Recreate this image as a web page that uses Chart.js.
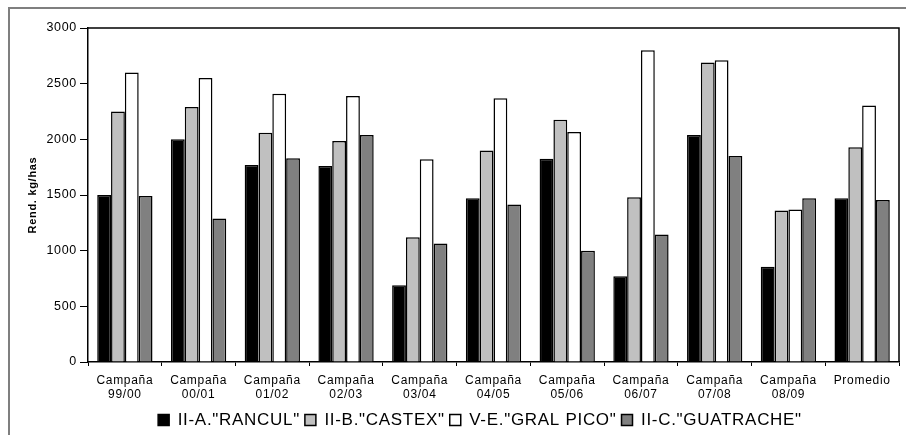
<!DOCTYPE html>
<html>
<head>
<meta charset="utf-8">
<script src="https://cdn.jsdelivr.net/npm/chart.js@4/dist/chart.umd.min.js"></script>
<style>
  html, body { margin: 0; padding: 0; background: #fff; }
  #wrap { width: 906px; height: 435px; position: relative; }
</style>
</head>
<body>
<div id="wrap"><canvas id="rendChart"></canvas></div>
<script>
// Rendimiento (kg/ha) por campaña y por zona
const campanias = [
    ['Campaña', '99/00'], ['Campaña', '00/01'], ['Campaña', '01/02'], ['Campaña', '02/03'],
    ['Campaña', '03/04'], ['Campaña', '04/05'], ['Campaña', '05/06'], ['Campaña', '06/07'],
    ['Campaña', '07/08'], ['Campaña', '08/09'], 'Promedio'
];
const rancul    = [1500, 2000, 1770, 1760, 690, 1470, 1825, 770, 2040, 855, 1470];
const castex    = [2250, 2290, 2060, 1985, 1120, 1900, 2175, 1480, 2690, 1360, 1930];
const gralPico  = [2600, 2550, 2410, 2390, 1820, 2370, 2065, 2800, 2710, 1370, 2305];
const guatrache = [1490, 1290, 1830, 2040, 1065, 1415, 1000, 1145, 1850, 1470, 1455];
const yTicks = [0, 500, 1000, 1500, 2000, 2500, 3000];

const FONT = "'Liberation Sans', Arial, sans-serif";
const LEGEND_FONT = 17;
const LEGEND_PAD = 5;

// el texto del gráfico original va algo espaciado
const spacingPlugin = {
    id: 'spacing',
    beforeUpdate(chart) { chart.ctx.letterSpacing = '0.7px'; },
    beforeDraw(chart) { chart.ctx.letterSpacing = '0.7px'; }
};

// la leyenda queda algo corrida a la derecha y pegada al borde inferior
const legendShift = {
    id: 'legendShift',
    afterLayout(chart) {
        const lg = chart.legend;
        if (!lg) return;
        const dx = 480 - (lg.left + lg.right) / 2;
        const dy = 420 - (lg.top + LEGEND_PAD + LEGEND_FONT / 2);
        lg.left += dx; lg.right += dx;
        lg.top += dy; lg.bottom += dy;
    }
};

// marco exterior gris y borde del área de trazado
const framePlugin = {
    id: 'frame',
    beforeDraw(chart) {
        const ctx = chart.ctx;
        ctx.save();
        ctx.strokeStyle = '#7f7f7f';
        ctx.lineWidth = 2;
        ctx.beginPath();
        ctx.moveTo(9, 435);
        ctx.lineTo(9, 8);
        ctx.lineTo(906, 8);
        ctx.stroke();
        ctx.restore();
    },
    afterDatasetsDraw(chart) {
        const a = chart.chartArea;
        const ctx = chart.ctx;
        ctx.save();
        ctx.strokeStyle = '#000';
        ctx.lineWidth = 1.5;
        ctx.beginPath();
        ctx.moveTo(a.left, a.top);
        ctx.lineTo(a.right, a.top);
        ctx.lineTo(a.right, a.bottom);
        ctx.stroke();
        ctx.restore();
    }
};

function serie(label, data, color) {
    return {
        label: label,
        data: data,
        backgroundColor: color,
        borderColor: '#000',
        borderWidth: 1.5,
        borderSkipped: 'bottom',
        categoryPercentage: 0.75,
        barPercentage: 1.0
    };
}

new Chart(document.getElementById('rendChart'), {
    type: 'bar',
    data: {
        labels: campanias,
        datasets: [
            serie('II-A."RANCUL"', rancul, '#000000'),
            serie('II-B."CASTEX"', castex, '#c0c0c0'),
            serie('V-E."GRAL PICO"', gralPico, '#ffffff'),
            serie('II-C."GUATRACHE"', guatrache, '#808080')
        ]
    },
    options: {
        responsive: true,
        maintainAspectRatio: false,
        animation: false,
        layout: { padding: { left: 26, top: 28, right: 7, bottom: 0 } },
        plugins: {
            legend: {
                position: 'bottom',
                labels: {
                    color: '#000',
                    font: { family: FONT, size: LEGEND_FONT },
                    boxWidth: 11,
                    boxHeight: 11,
                    padding: LEGEND_PAD
                }
            },
            tooltip: { enabled: false }
        },
        scales: {
            x: {
                afterFit(scale) { scale.height = 41; },
                grid: {
                    display: true,
                    drawOnChartArea: false,
                    drawTicks: true,
                    tickLength: 4,
                    color: '#000',
                    lineWidth: 1
                },
                border: { display: true, color: '#000', width: 1.5 },
                ticks: {
                    color: '#000',
                    font: { family: FONT, size: 12 },
                    padding: 7,
                    maxRotation: 0,
                    autoSkip: false
                }
            },
            y: {
                min: 0,
                max: 3000,
                afterFit(scale) { scale.width = 62; },
                afterBuildTicks(scale) { scale.ticks = yTicks.map(v => ({ value: v })); },
                grid: {
                    display: true,
                    drawOnChartArea: false,
                    drawTicks: true,
                    tickLength: 8,
                    color: '#000',
                    lineWidth: 1
                },
                border: { display: true, color: '#000', width: 1.5 },
                ticks: {
                    color: '#000',
                    font: { family: FONT, size: 12.5 },
                    padding: 3,
                    callback: v => String(v)
                },
                title: {
                    display: true,
                    text: 'Rend. kg/has',
                    color: '#000',
                    font: { family: FONT, size: 11, weight: 'bold' },
                    padding: { top: 0, bottom: 0 }
                }
            }
        }
    },
    plugins: [spacingPlugin, legendShift, framePlugin]
});
</script>
</body>
</html>
